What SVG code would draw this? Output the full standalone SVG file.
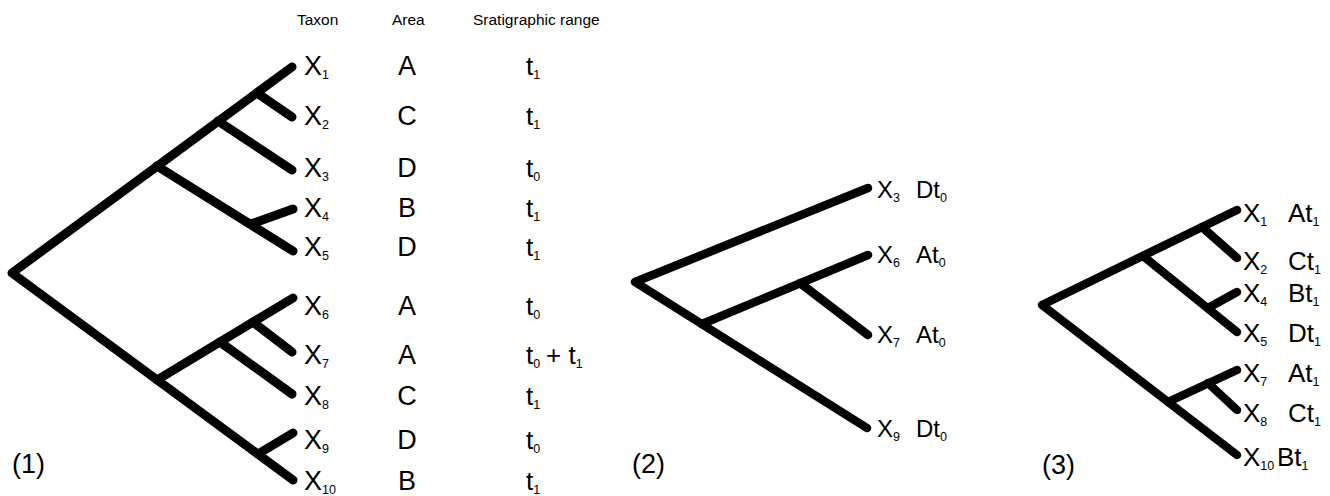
<svg xmlns="http://www.w3.org/2000/svg" width="1330" height="496" viewBox="0 0 1330 496">
<style>
.br{fill:none;stroke:#000;stroke-width:9;stroke-linecap:round;stroke-linejoin:round}
.br2{fill:none;stroke:#000;stroke-width:8.5;stroke-linecap:round;stroke-linejoin:round}
text{font-family:"Liberation Sans",Arial,Helvetica,sans-serif;fill:#000}
.hd{font-size:15.5px}
.l1{font-size:27px}
.st{font-size:26px}
.l2{font-size:24px}
.l3{font-size:26px}
.sb{font-size:12.5px}
.pn{font-size:27px}
</style>
<rect width="1330" height="496" fill="#fff"/>
<g id="connectors">
  <g id="tree1-edges" class="br">
    <path d="M292,67 L12,273 L293,480"/>
    <path d="M157,166 L293,251"/>
    <path d="M251,224 L293,209"/>
    <path d="M218,121 L292,170"/>
    <path d="M257,93 L292,117"/>
    <path d="M157,380 L293,298"/>
    <path d="M220,342 L292,394"/>
    <path d="M253,322 L292,352"/>
    <path d="M258,454 L293,433"/>
  </g>
  <g id="tree2-edges" class="br2">
    <path d="M868,188 L635,282 L867,428"/>
    <path d="M702,324 L868,255"/>
    <path d="M800,283 L868,335"/>
  </g>
  <g id="tree3-edges" class="br2">
    <path d="M1237,210 L1042,305 L1237,455"/>
    <path d="M1143,256 L1237,332"/>
    <path d="M1202,227 L1237,258"/>
    <path d="M1208,308 L1237,292"/>
    <path d="M1168,402 L1237,370"/>
    <path d="M1208,383 L1237,410"/>
  </g>
</g>
<g id="headers">
  <text class="hd" x="297" y="25">Taxon</text>
  <text class="hd" x="392" y="25">Area</text>
  <text class="hd" x="473" y="25">Sratigraphic range</text>
</g>
<g id="tree1-labels">
  <g id="t1-X1"><text class="l1" x="304" y="75">X<tspan class="sb" dy="4">1</tspan></text><text class="l1" x="407" y="75" text-anchor="middle">A</text><text class="st" x="526" y="75">t<tspan class="sb" dy="4">1</tspan></text></g>
  <g id="t1-X2"><text class="l1" x="304" y="125">X<tspan class="sb" dy="4">2</tspan></text><text class="l1" x="407" y="125" text-anchor="middle">C</text><text class="st" x="526" y="125">t<tspan class="sb" dy="4">1</tspan></text></g>
  <g id="t1-X3"><text class="l1" x="304" y="177">X<tspan class="sb" dy="4">3</tspan></text><text class="l1" x="407" y="177" text-anchor="middle">D</text><text class="st" x="526" y="177">t<tspan class="sb" dy="4">0</tspan></text></g>
  <g id="t1-X4"><text class="l1" x="304" y="217">X<tspan class="sb" dy="4">4</tspan></text><text class="l1" x="407" y="217" text-anchor="middle">B</text><text class="st" x="526" y="217">t<tspan class="sb" dy="4">1</tspan></text></g>
  <g id="t1-X5"><text class="l1" x="304" y="256">X<tspan class="sb" dy="4">5</tspan></text><text class="l1" x="407" y="256" text-anchor="middle">D</text><text class="st" x="526" y="256">t<tspan class="sb" dy="4">1</tspan></text></g>
  <g id="t1-X6"><text class="l1" x="304" y="315">X<tspan class="sb" dy="4">6</tspan></text><text class="l1" x="407" y="315" text-anchor="middle">A</text><text class="st" x="526" y="315">t<tspan class="sb" dy="4">0</tspan></text></g>
  <g id="t1-X7"><text class="l1" x="304" y="364">X<tspan class="sb" dy="4">7</tspan></text><text class="l1" x="407" y="364" text-anchor="middle">A</text><text class="st" x="526" y="364">t<tspan class="sb" dy="4">0</tspan><tspan x="546" y="364">+ t</tspan><tspan class="sb" dy="4">1</tspan></text></g>
  <g id="t1-X8"><text class="l1" x="304" y="405">X<tspan class="sb" dy="4">8</tspan></text><text class="l1" x="407" y="405" text-anchor="middle">C</text><text class="st" x="526" y="405">t<tspan class="sb" dy="4">1</tspan></text></g>
  <g id="t1-X9"><text class="l1" x="304" y="449">X<tspan class="sb" dy="4">9</tspan></text><text class="l1" x="407" y="449" text-anchor="middle">D</text><text class="st" x="526" y="449">t<tspan class="sb" dy="4">0</tspan></text></g>
  <g id="t1-X10"><text class="l1" x="304" y="490">X<tspan class="sb" dy="4">10</tspan></text><text class="l1" x="407" y="490" text-anchor="middle">B</text><text class="st" x="526" y="490">t<tspan class="sb" dy="4">1</tspan></text></g>
</g>
<g id="tree2-labels">
  <g id="t2-X3"><text class="l2" x="877" y="198">X<tspan class="sb" dy="4">3</tspan><tspan x="916" y="198">Dt</tspan><tspan class="sb" dy="4">0</tspan></text></g>
  <g id="t2-X6"><text class="l2" x="877" y="263">X<tspan class="sb" dy="4">6</tspan><tspan x="916" y="263">At</tspan><tspan class="sb" dy="4">0</tspan></text></g>
  <g id="t2-X7"><text class="l2" x="877" y="343">X<tspan class="sb" dy="4">7</tspan><tspan x="916" y="343">At</tspan><tspan class="sb" dy="4">0</tspan></text></g>
  <g id="t2-X9"><text class="l2" x="877" y="437">X<tspan class="sb" dy="4">9</tspan><tspan x="916" y="437">Dt</tspan><tspan class="sb" dy="4">0</tspan></text></g>
</g>
<g id="tree3-labels">
  <g id="t3-X1"><text class="l3" x="1243" y="222">X<tspan class="sb" dy="4">1</tspan><tspan x="1288" y="222">At</tspan><tspan class="sb" dy="4">1</tspan></text></g>
  <g id="t3-X2"><text class="l3" x="1243" y="270">X<tspan class="sb" dy="4">2</tspan><tspan x="1288" y="270">Ct</tspan><tspan class="sb" dy="4">1</tspan></text></g>
  <g id="t3-X4"><text class="l3" x="1243" y="302">X<tspan class="sb" dy="4">4</tspan><tspan x="1288" y="302">Bt</tspan><tspan class="sb" dy="4">1</tspan></text></g>
  <g id="t3-X5"><text class="l3" x="1243" y="342">X<tspan class="sb" dy="4">5</tspan><tspan x="1288" y="342">Dt</tspan><tspan class="sb" dy="4">1</tspan></text></g>
  <g id="t3-X7"><text class="l3" x="1243" y="382">X<tspan class="sb" dy="4">7</tspan><tspan x="1288" y="382">At</tspan><tspan class="sb" dy="4">1</tspan></text></g>
  <g id="t3-X8"><text class="l3" x="1243" y="422">X<tspan class="sb" dy="4">8</tspan><tspan x="1288" y="422">Ct</tspan><tspan class="sb" dy="4">1</tspan></text></g>
  <g id="t3-X10"><text class="l3" x="1243" y="466">X<tspan class="sb" dy="4">10</tspan><tspan x="1277" y="466">Bt</tspan><tspan class="sb" dy="4">1</tspan></text></g>
</g>
<g id="panel-labels">
  <text class="pn" x="12" y="473">(1)</text>
  <text class="pn" x="632" y="473">(2)</text>
  <text class="pn" x="1042" y="474">(3)</text>
</g>
</svg>
